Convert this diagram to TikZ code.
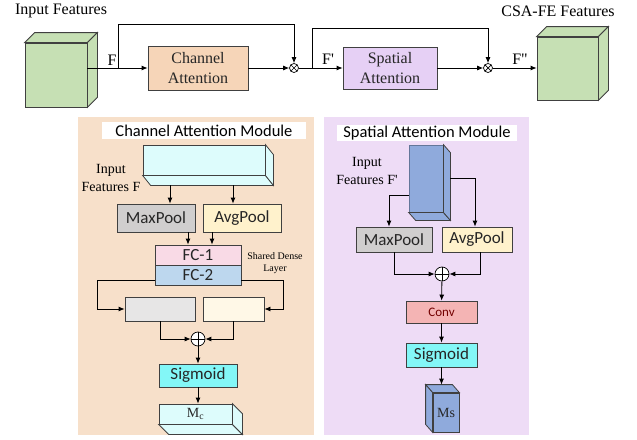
\documentclass[tikz,border=0pt]{standalone}
\usepackage{fontspec}
\setmainfont{Liberation Serif}
\setsansfont{Carlito}
\usetikzlibrary{arrows.meta,positioning}

\definecolor{linec}{HTML}{404040}
\definecolor{txtc}{HTML}{262626}
\definecolor{cubegreen}{HTML}{C6E0B4}
\definecolor{cafill}{HTML}{F6D5B8}
\definecolor{safill}{HTML}{E6D0F5}
\definecolor{cpanel}{HTML}{F7E0CA}
\definecolor{spanel}{HTML}{EEDCF6}
\definecolor{icefill}{HTML}{DDFCFC}
\definecolor{maxfill}{HTML}{D0CECE}
\definecolor{avgfill}{HTML}{FFF2CC}
\definecolor{fcone}{HTML}{F9DAE6}
\definecolor{fctwo}{HTML}{BDD7EE}
\definecolor{greyfill}{HTML}{E7E6E6}
\definecolor{creamfill}{HTML}{FFF8E7}
\definecolor{sigfill}{HTML}{83F7F7}
\definecolor{convfill}{HTML}{F4B4B4}
\definecolor{bluefill}{HTML}{8FAADC}

% side face of a cuboid: node, offset, corner, corner, colour
\newcommand{\face}[5]{\filldraw[fill=#5,draw=linec] (#1.#3) -- ([shift={#2}]#1.#3) -- ([shift={#2}]#1.#4) -- (#1.#4) -- cycle;}

\begin{document}
\begin{tikzpicture}[x=1pt,y=-1pt,line width=0.8pt,
  arr/.style={-{Latex[length=6pt,width=5pt]}},
  blk/.style={draw=linec,inner sep=0pt,text=txtc,font=\sffamily\fontsize{17}{17}\selectfont},
  sz/.style 2 args={minimum width=#1pt,minimum height=#2pt},
  serif/.style={font=\fontsize{16}{20}\selectfont},
  mult/.style={circle,draw,fill=white,inner sep=0pt,minimum size=9pt,line width=0.7pt,
    path picture={\draw (path picture bounding box.north west) -- (path picture bounding box.south east)
      (path picture bounding box.south west) -- (path picture bounding box.north east);}},
  add/.style={circle,draw,fill=white,inner sep=0pt,minimum size=14pt,line width=0.7pt,
    path picture={\draw (path picture bounding box.north) -- (path picture bounding box.south)
      (path picture bounding box.west) -- (path picture bounding box.east);}}]
\fill[white] (0,0) rectangle (637,439);
\useasboundingbox (0,0) rectangle (637,439);

% top row
\node[serif] (intxt) at (61,11) {Input Features};
\node[serif] (outtxt) at (558,11) {CSA-FE Features};
\node[blk,fill=cubegreen,sz={62}{64}] (incube) at (56,75) {};
\face{incube}{(10,-10)}{north west}{north east}{cubegreen}
\face{incube}{(10,-10)}{north east}{south east}{cubegreen}
\node[blk,fill=cubegreen,sz={61}{63}] (outcube) at (567.5,68.5) {};
\face{outcube}{(10,-10)}{north west}{north east}{cubegreen}
\face{outcube}{(10,-10)}{north east}{south east}{cubegreen}
\node[blk,fill=cafill,sz={100}{44},align=center,font=\fontsize{16}{20}\selectfont] (ca) at (198,68) {Channel\\Attention};
\node[blk,fill=safill,sz={94}{42},align=center,font=\fontsize{16}{20}\selectfont] (sa) at (390,68) {Spatial\\Attention};
\node[mult] (m1) at (294,68) {};
\node[mult] (m2) at (488,68) {};
\coordinate (s1) at (118,68);
\coordinate (s2) at (312,68);
\node[serif] (flab) at (112,60) {F};
\node[serif] (fplab) at (328,59) {F\textquotesingle};
\node[serif] (fpplab) at (520,59) {F\textquotedbl};

\draw[arr] (incube.east |- ca.west) -- (ca.west);
\draw[arr] (s1) -- ++(0,-44) -| (m1);
\draw[arr] (ca) -- (m1);
\draw[arr] (m1) -- (sa);
\draw[arr] (s2) -- ++(0,-40) -| (m2);
\draw[arr] (sa) -- (m2);
\draw[arr] (m2) -- (outcube.west |- m2);

% channel attention module
\node[fill=cpanel,sz={236}{318}] (cpan) at (196,276) {};
\node[fill=white,sz={204}{17},inner sep=0pt,font=\sffamily\fontsize{16.5}{17}\selectfont] (ctitle) at (204,130.5) {Channel Attention Module};
\node[blk,fill=icefill,sz={122}{30}] (ccub) at (204,160) {};
\face{ccub}{(8,10)}{south west}{south east}{icefill}
\face{ccub}{(8,10)}{north east}{south east}{icefill}
\coordinate (cbot) at ([shift={(8,10)}]ccub.south);
\node[align=center,font=\fontsize{14}{18}\selectfont] (cin) at (111,178) {Input\\Features F};
\node[blk,fill=maxfill,sz={78}{28}] (cmax) at (156,218) {MaxPool};
\node[blk,fill=avgfill,sz={78}{28}] (cavg) at (242,218) {AvgPool};
\node[blk,fill=fcone,sz={86}{20}] (fc1) at (198,255) {FC-1};
\node[blk,fill=fctwo,sz={86}{20}] (fc2) at (198,275) {FC-2};
\node[align=center,font=\fontsize{10}{12}\selectfont] (shared) at (275,263) {Shared Dense\\Layer};
\node[blk,fill=greyfill,sz={70}{24}] (gbox) at (160,309) {};
\node[blk,fill=creamfill,sz={61}{24}] (ybox) at (233.5,309) {};
\node[add] (cp) at (198,339) {};
\node[blk,fill=sigfill,sz={78}{23}] (sig1) at (198,375.5) {Sigmoid};
\node[blk,fill=icefill,sz={73}{20},font=\fontsize{14}{14}\selectfont] (mc) at (195.5,414) {M\textsubscript{c}};
\face{mc}{(10,10)}{south west}{south east}{icefill}
\face{mc}{(10,10)}{north east}{south east}{icefill}

\draw[arr] ([xshift=14pt]cmax.north |- cbot) -- ([xshift=14pt]cmax.north);
\draw[arr] ([xshift=-9pt]cavg.north |- cbot) -- ([xshift=-9pt]cavg.north);
\draw[arr] ([xshift=32pt]cmax.south) -- ([xshift=32pt]cmax.south |- fc1.north);
\draw[arr] ([xshift=-30pt]cavg.south) -- ([xshift=-30pt]cavg.south |- fc1.north);
\draw[arr] ([yshift=-5pt]fc2.west) -| ([xshift=-27pt]gbox.west) -- (gbox.west);
\draw[arr] ([yshift=-5pt]fc2.east) -| ([xshift=19pt]ybox.east) -- (ybox.east);
\draw[arr] (gbox.south) |- (cp);
\draw[arr] (ybox.south) |- (cp);
\draw[arr] (cp) -- (sig1);
\draw[arr] (sig1.south) -- (sig1.south |- mc.north);

% spatial attention module
\node[fill=spanel,sz={205}{318}] (span) at (426.5,276) {};
\node[fill=white,sz={180}{16},inner sep=0pt,font=\sffamily\fontsize{16.5}{17}\selectfont] (stitle) at (427,133) {Spatial Attention Module};
\node[align=center,font=\fontsize{14}{18}\selectfont] (sin) at (367,171) {Input\\Features F\textquotesingle};
\node[blk,fill=bluefill,draw=bluefill!70!black,sz={34}{67}] (scub) at (426,178.5) {};
\face{scub}{(7,8)}{south west}{south east}{bluefill}
\face{scub}{(7,8)}{north east}{south east}{bluefill}
\node[blk,fill=maxfill,sz={76}{25}] (smax) at (394,239.5) {MaxPool};
\node[blk,fill=avgfill,sz={70}{25}] (savg) at (477,239.5) {AvgPool};
\node[add] (sp) at (442,274) {};
\node[blk,fill=convfill,sz={71}{22},text=red!45!black,font=\sffamily\fontsize{13}{13}\selectfont] (conv) at (441.5,312) {Conv};
\node[blk,fill=sigfill,sz={71}{24}] (sig2) at (441.5,355) {Sigmoid};
\node[blk,fill=bluefill,sz={26}{39},font=\fontsize{14}{14}\selectfont] (ms) at (446,412.5) {Ms};
\face{ms}{(-7,-8)}{north west}{north east}{bluefill}
\face{ms}{(-7,-8)}{north west}{south west}{bluefill}
\coordinate (mstop) at ([yshift=8pt]ms.north);

\draw[arr] ([yshift=-16.5pt]scub.west) -| ([xshift=-5pt]smax.north);
\draw[arr] ([xshift=7pt]scub.east) -| ([xshift=-2pt]savg.north);
\draw[arr] (smax.south) |- (sp);
\draw[arr] ([xshift=3pt]savg.south) |- (sp);
\draw[arr] (sp) -- (conv);
\draw[arr] (conv) -- (sig2);
\draw[arr] (sig2.south) -- (sig2.south |- mstop);
\end{tikzpicture}
\end{document}
